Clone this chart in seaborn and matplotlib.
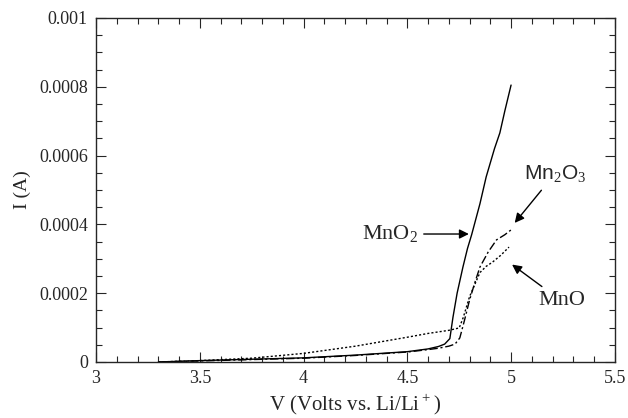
import pandas as pd
import numpy as np
import matplotlib.pyplot as plt
import seaborn as sns
from matplotlib.ticker import MultipleLocator

# I-V curves
v_mno2 = [3.3, 3.5, 3.75, 4.0, 4.25, 4.5, 4.6, 4.65, 4.68, 4.705, 4.72, 4.74, 4.768, 4.79, 4.81, 4.85, 4.88, 4.92, 4.946, 4.97, 5.0]
i_mno2 = [0.0, 0.000004, 0.000008, 0.000012, 0.00002, 0.00003, 0.000038, 0.000045, 0.000052, 0.000068, 0.00013, 0.0002, 0.000276, 0.00033, 0.00037, 0.00046, 0.000538, 0.00062, 0.000666, 0.00073, 0.000805]

v_mn2o3 = [3.3, 3.5, 3.75, 4.0, 4.25, 4.5, 4.6, 4.65, 4.7, 4.73, 4.753, 4.775, 4.80, 4.825, 4.85, 4.89, 4.93, 4.97, 5.0]
i_mn2o3 = [0.0, 0.000003, 0.000007, 0.000011, 0.000019, 0.000029, 0.000036, 0.00004, 0.000046, 0.000052, 0.00007, 0.00012, 0.00018, 0.00023, 0.000276, 0.00032, 0.000355, 0.00037, 0.000384]

v_mno = [3.3, 3.5, 3.75, 4.0, 4.25, 4.5, 4.6, 4.7, 4.75, 4.77, 4.80, 4.825, 4.85, 4.88, 4.91, 4.95, 4.99]
i_mno = [0.0, 0.000004, 0.000011, 0.000025, 0.000046, 0.000072, 0.000083, 0.000092, 0.000099, 0.00013, 0.00019, 0.000225, 0.00026, 0.000278, 0.00029, 0.00031, 0.000334]

df = pd.concat([
    pd.DataFrame({"V": v_mno2, "I": i_mno2, "oxide": "MnO2"}),
    pd.DataFrame({"V": v_mn2o3, "I": i_mn2o3, "oxide": "Mn2O3"}),
    pd.DataFrame({"V": v_mno, "I": i_mno, "oxide": "MnO"}),
])

sns.set_style("ticks")
plt.rcParams['font.family'] = ['Liberation Serif', 'DejaVu Serif']
plt.rcParams['mathtext.fontset'] = 'custom'
plt.rcParams['mathtext.rm'] = 'Liberation Serif'

fig = plt.figure(figsize=(6.28, 4.18), dpi=100)
ax = fig.add_axes([0.153, 0.134, 0.826, 0.823])

styles = {"MnO2": (None, None), "Mn2O3": (6, 2, 1.5, 2), "MnO": (1.5, 1.5)}
for name, sub in df.groupby("oxide", sort=False):
    sns.lineplot(data=sub, x="V", y="I", ax=ax, color="black", lw=1.0,
                 estimator=None, sort=False)
    line = ax.lines[-1]
    if styles[name][0] is not None:
        line.set_dashes(styles[name])

ax.set_xlim(3, 5.5)
ax.set_ylim(0, 0.001)
ax.xaxis.set_minor_locator(MultipleLocator(0.1))
ax.yaxis.set_minor_locator(MultipleLocator(0.00005))
ax.set_xticks([3, 3.5, 4, 4.5, 5, 5.5])
ax.set_xticklabels(["3", "3.5", "4", "4.5", "5", "5.5"])
ax.set_yticks([0, 0.0002, 0.0004, 0.0006, 0.0008, 0.001])
ax.set_yticklabels(["0", "0.0002", "0.0004", "0.0006", "0.0008", "0.001"])
ax.tick_params(which="both", direction="in", top=True, right=True, labelsize=13, width=0.8)
ax.tick_params(which="major", length=7, pad=6)
ax.tick_params(which="minor", length=4)
for s in ax.spines.values():
    s.set_linewidth(1.0)

ax.set_xlabel("V (Volts vs. Li/Li$^+$)", fontsize=15, labelpad=3)
ax.set_ylabel("I (A)", fontsize=14, labelpad=6)

arrow = dict(arrowstyle="-|>", color="black", lw=1.0, mutation_scale=14)
ax.annotate("MnO$_2$", xy=(4.81, 0.000372), xytext=(4.55, 0.000372),
            ha="right", va="center", fontsize=16, arrowprops=arrow)
ax.annotate("Mn$_2$O$_3$", xy=(5.009, 0.000398), xytext=(5.06, 0.000515),
            ha="left", va="bottom", fontsize=15, family="Liberation Sans",
            arrowprops=arrow)
ax.annotate("MnO", xy=(4.994, 0.000288), xytext=(5.13, 0.000205),
            ha="left", va="top", fontsize=16, arrowprops=arrow)

fig.savefig("out.png", dpi=100)
